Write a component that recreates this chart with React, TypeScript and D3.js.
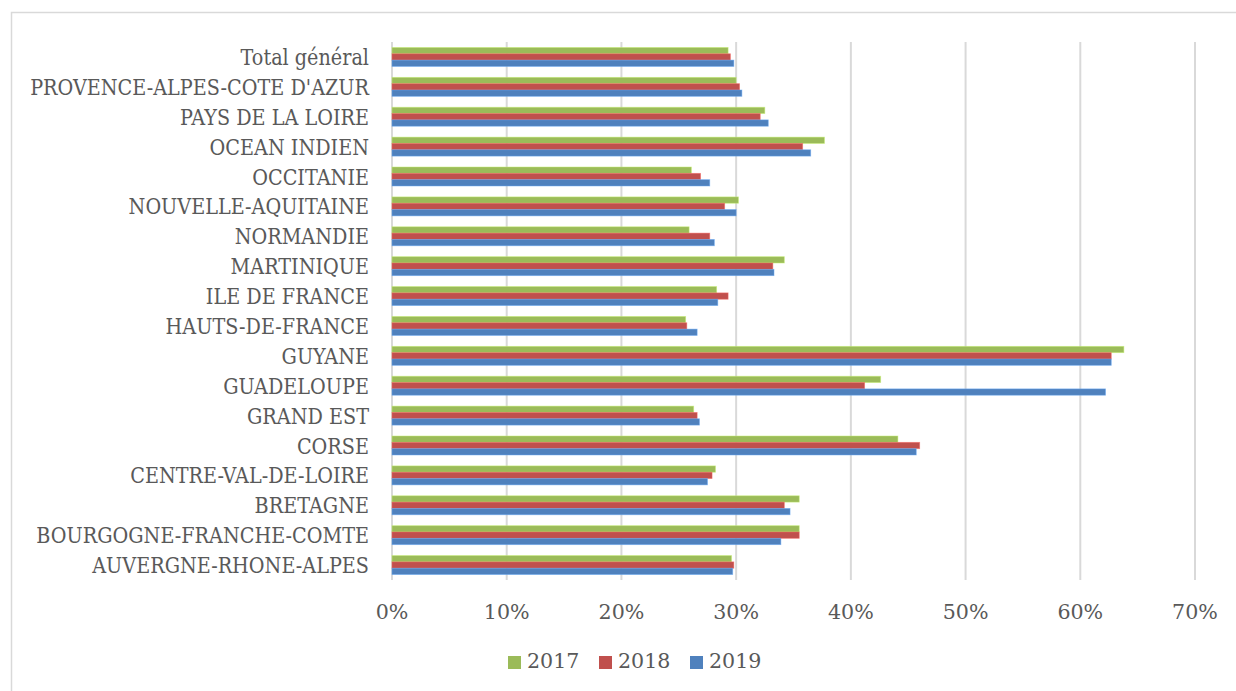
import React from "react";
import * as d3 from "d3";

// Regions, listed top to bottom as they appear on the chart
const categories = [
  "Total général",
  "PROVENCE-ALPES-COTE D'AZUR",
  "PAYS DE LA LOIRE",
  "OCEAN INDIEN",
  "OCCITANIE",
  "NOUVELLE-AQUITAINE",
  "NORMANDIE",
  "MARTINIQUE",
  "ILE DE FRANCE",
  "HAUTS-DE-FRANCE",
  "GUYANE",
  "GUADELOUPE",
  "GRAND EST",
  "CORSE",
  "CENTRE-VAL-DE-LOIRE",
  "BRETAGNE",
  "BOURGOGNE-FRANCHE-COMTE",
  "AUVERGNE-RHONE-ALPES",
];

const years = ["2017", "2018", "2019"];

const values2017 = [0.293, 0.300, 0.325, 0.377, 0.261, 0.302, 0.259, 0.342, 0.283, 0.256, 0.638, 0.426, 0.263, 0.441, 0.282, 0.355, 0.355, 0.296];
const values2018 = [0.295, 0.303, 0.321, 0.358, 0.269, 0.290, 0.277, 0.332, 0.293, 0.257, 0.627, 0.412, 0.266, 0.460, 0.279, 0.342, 0.355, 0.298];
const values2019 = [0.298, 0.305, 0.328, 0.365, 0.277, 0.300, 0.281, 0.333, 0.284, 0.266, 0.627, 0.622, 0.268, 0.457, 0.275, 0.347, 0.339, 0.297];

const seriesValues = [values2017, values2018, values2019];
const seriesColors = ["#9BBB59", "#C0504D", "#4F81BD"];

const xTicks = [0, 0.1, 0.2, 0.3, 0.4, 0.5, 0.6, 0.7];

const W = 1236;
const H = 691;
const plot = { left: 392, right: 1195, top: 42, bottom: 580 };
const textColor = "#595959";
const gridColor = "#D9D9D9";
const fontFamily = "'DejaVu Serif', 'Liberation Serif', serif";

export default function App() {
  const x = d3.scaleLinear().domain([0, 0.7]).range([plot.left, plot.right]);
  const y = d3.scaleBand<string>().domain(categories).range([plot.top, plot.bottom]).padding(0);
  const groupH = y.bandwidth() * 0.635;
  const inner = d3
    .scaleBand<string>()
    .domain(years)
    .range([(y.bandwidth() - groupH) / 2, (y.bandwidth() + groupH) / 2])
    .padding(0);
  const pct = d3.format(".0%");

  return (
    <svg
      width={W}
      height={H}
      style={{ position: "absolute", left: 0, top: 0, background: "#fff" }}
    >
      {/* chart frame */}
      <rect x={11.5} y={12.5} width={1250} height={700} fill="#fff" stroke={gridColor} strokeWidth={1.5} />

      {/* vertical gridlines */}
      {xTicks.map((t) => (
        <line
          key={`g${t}`}
          x1={x(t)}
          x2={x(t)}
          y1={plot.top}
          y2={plot.bottom}
          stroke={gridColor}
          strokeWidth={2}
        />
      ))}

      {/* bars */}
      {categories.map((c, i) => (
        <g key={c} transform={`translate(0,${y(c)})`}>
          {years.map((yr, s) => {
            const v = seriesValues[s][i];
            const col = seriesColors[s];
            return (
              <rect
                key={yr}
                x={x(0)}
                y={inner(yr)}
                width={x(v) - x(0)}
                height={inner.bandwidth()}
                fill={col}
                stroke={d3.color(col)!.brighter(0.7).formatHex()}
                strokeOpacity={0.6}
                strokeWidth={0.8}
              />
            );
          })}
        </g>
      ))}

      {/* category labels */}
      {categories.map((c) => (
        <text
          key={`l${c}`}
          transform={`translate(369,${(y(c) ?? 0) + y.bandwidth() / 2 + 8}) scale(0.85,1)`}
          textAnchor="end"
          fontFamily={fontFamily}
          fontSize={22.6}
          fill={textColor}
        >
          {c}
        </text>
      ))}

      {/* x tick labels */}
      {xTicks.map((t) => (
        <text
          key={`t${t}`}
          x={x(t)}
          y={619}
          textAnchor="middle"
          fontFamily={fontFamily}
          fontSize={20.6}
          fill={textColor}
        >
          {pct(t)}
        </text>
      ))}

      {/* legend */}
      {years.map((yr, s) => (
        <g key={`lg${yr}`} transform={`translate(${508 + s * 91},656)`}>
          <rect x={0} y={0} width={13} height={13} fill={seriesColors[s]} />
          <text x={19} y={12} fontFamily={fontFamily} fontSize={20.6} fill={textColor}>
            {yr}
          </text>
        </g>
      ))}
    </svg>
  );
}
